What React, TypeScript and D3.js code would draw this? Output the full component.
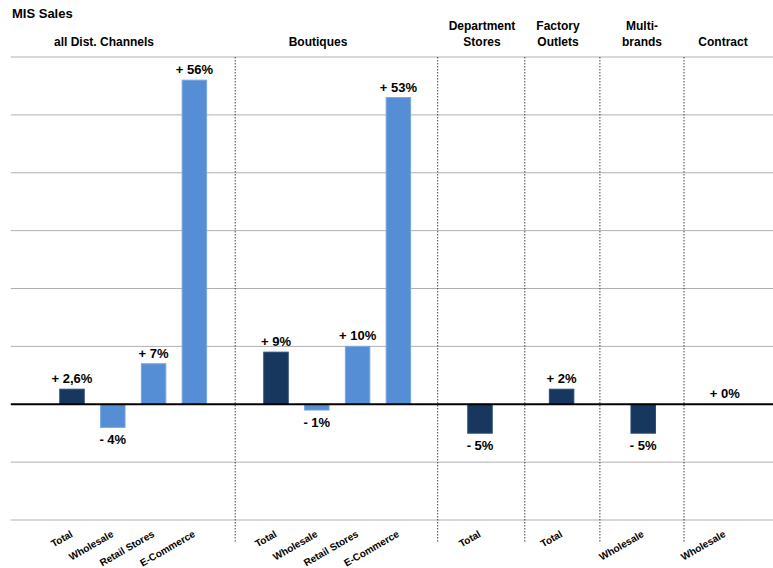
import React from "react";
import * as d3 from "d3";

const groups = ["all Dist. Channels", "Boutiques", "Department Stores", "Factory Outlets", "Multi-brands", "Contract"];
const groupHeaderLines = [["all Dist. Channels"], ["Boutiques"], ["Department", "Stores"], ["Factory", "Outlets"], ["Multi-", "brands"], ["Contract"]];
const categories = ["Total", "Wholesale", "Retail Stores", "E-Commerce", "Total", "Wholesale", "Retail Stores", "E-Commerce", "Total", "Total", "Wholesale", "Wholesale"];
const categoryGroup = [0, 0, 0, 0, 1, 1, 1, 1, 2, 3, 4, 5];
const seriesKind = ["total", "channel", "channel", "channel", "total", "channel", "channel", "channel", "total", "total", "total", "total"];
const values = [2.6, -4, 7, 56, 9, -1, 10, 53, -5, 2.6, -5, 0];
const valueLabels = ["+ 2,6%", "- 4%", "+ 7%", "+ 56%", "+ 9%", "- 1%", "+ 10%", "+ 53%", "- 5%", "+ 2%", "- 5%", "+ 0%"];
const yTicks = [-20, -10, 0, 10, 20, 30, 40, 50, 60];

const W = 773;
const H = 568;
const FONT = "'Liberation Sans', Arial, Helvetica, sans-serif";
const headerX = [104, 318, 482, 558, 642, 723];
const sepOffset = [0, -1.5, 4, -2.5, 0];
const colors: Record<string, string> = { total: "#17375e", channel: "#558ed5" };
const strokes: Record<string, string> = { total: "#2a4a72", channel: "#7ba7df" };

// Build slots: leading pad, groups separated by separator slots, trailing pad
const slots: { id: string; type: "pad" | "cat" | "sep"; idx?: number }[] = [];
slots.push({ id: "pad0", type: "pad" });
groups.forEach((g, gi) => {
  if (gi > 0) slots.push({ id: "sep" + gi, type: "sep", idx: gi - 1 });
  categories.forEach((c, ci) => {
    if (categoryGroup[ci] === gi) slots.push({ id: "c" + ci, type: "cat", idx: ci });
  });
});
slots.push({ id: "pad1", type: "pad" });

export default function App() {
  const left = 10.8;
  const step = 40.8;
  const x = d3
    .scaleBand<string>()
    .domain(slots.map((s) => s.id))
    .range([left, left + step * slots.length])
    .paddingInner(0.4)
    .paddingOuter(0.2);
  const y = d3.scaleLinear().domain([-20, 60]).range([520, 57]);
  const bw = x.bandwidth();
  const cx = (id: string) => (x(id) as number) + bw / 2;

  return (
    <svg width={W} height={H} style={{ position: "absolute", left: 0, top: 0, background: "#fff" }} fontFamily={FONT}>
      {/* gridlines */}
      {yTicks.filter((t) => t !== 0).map((t) => (
        <line key={t} x1={left} x2={W} y1={y(t)} y2={y(t)} stroke="#b0b0b0" strokeWidth={1} />
      ))}
      {/* separators */}
      {slots.filter((s) => s.type === "sep").map((s) => (
        <line key={s.id} x1={cx(s.id) + sepOffset[s.idx as number]} x2={cx(s.id) + sepOffset[s.idx as number]} y1={57} y2={543} stroke="#444" strokeWidth={1} strokeDasharray="1.5,1.5" />
      ))}
      {/* bars */}
      {categories.map((c, i) => {
        const id = "c" + i;
        const v = values[i];
        const y0 = y(Math.max(0, v));
        const h = Math.abs(y(v) - y(0));
        if (h <= 0) return null;
        return (
          <rect key={id} x={x(id)} y={y0} width={bw} height={h} fill={colors[seriesKind[i]]} stroke={strokes[seriesKind[i]]} strokeWidth={1} />
        );
      })}
      {/* zero line */}
      <line x1={left} x2={W} y1={y(0)} y2={y(0)} stroke="#000" strokeWidth={2.2} />
      {/* value labels */}
      {categories.map((c, i) => {
        const id = "c" + i;
        const v = values[i];
        const ty = v >= 0 ? y(v) - 6 : y(v) + 17;
        return (
          <text key={"l" + id} x={cx(id)} y={ty} textAnchor="middle" fontSize={13} fontWeight="bold" fill="#000">
            {valueLabels[i]}
          </text>
        );
      })}
      {/* x labels */}
      {categories.map((c, i) => {
        const id = "c" + i;
        return (
          <text key={"x" + id} transform={`translate(${cx(id) + 1.5},${536}) rotate(-30)`} textAnchor="end" fontSize={10} fontWeight="bold" fill="#000">
            {c}
          </text>
        );
      })}
      {/* title */}
      <text x={12} y={18} fontSize={13} fontWeight="bold" fill="#000">MIS Sales</text>
      {/* group headers */}
      {groupHeaderLines.map((lines, gi) => (
        <text key={"g" + gi} x={headerX[gi]} textAnchor="middle" fontSize={12} fontWeight="bold" fill="#000">
          {lines.map((ln, li) => (
            <tspan key={li} x={headerX[gi]} y={46 - (lines.length - 1 - li) * 16}>{ln}</tspan>
          ))}
        </text>
      ))}
    </svg>
  );
}
